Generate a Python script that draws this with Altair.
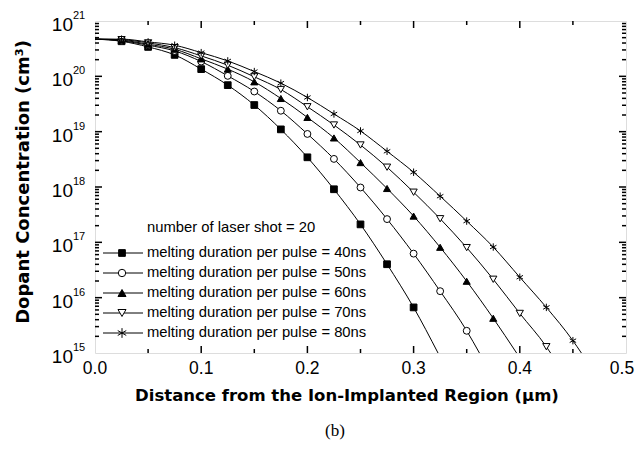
import altair as alt
import pandas as pd

# ---------------- data ----------------
series_names = [
    "melting duration per pulse = 40ns",
    "melting duration per pulse = 50ns",
    "melting duration per pulse = 60ns",
    "melting duration per pulse = 70ns",
    "melting duration per pulse = 80ns",
]
legend_header = "number of laser shot = 20"

x_40 = [0.0, 0.025, 0.05, 0.075, 0.1, 0.125, 0.15, 0.175, 0.2, 0.225, 0.25, 0.275, 0.3, 0.323]
c_40 = [4.7e20, 4.3e20, 3.40e20, 2.44e20, 1.35e20, 6.93e19, 3.03e19, 1.10e19, 3.44e18, 9.1e17,
        2.11e17, 4.02e16, 6.67e15, 1.0e15]

x_50 = [0.0, 0.025, 0.05, 0.075, 0.1, 0.125, 0.15, 0.175, 0.2, 0.225, 0.25, 0.275, 0.3, 0.325,
        0.35, 0.362]
c_50 = [4.7e20, 4.4e20, 3.65e20, 2.88e20, 1.85e20, 1.02e20, 5.32e19, 2.39e19, 9.1e18, 3.22e18,
        9.8e17, 2.63e17, 6.25e16, 1.31e16, 2.52e15, 1.0e15]

x_60 = [0.0, 0.025, 0.05, 0.075, 0.1, 0.125, 0.15, 0.175, 0.2, 0.225, 0.25, 0.275, 0.3, 0.325,
        0.35, 0.375, 0.397]
c_60 = [4.7e20, 4.5e20, 3.80e20, 3.09e20, 2.07e20, 1.35e20, 7.96e19, 3.98e19, 1.81e19, 7.7e18,
        2.76e18, 9.4e17, 2.98e17, 8.13e16, 1.98e16, 4.24e15, 1.0e15]

x_70 = [0.0, 0.025, 0.05, 0.075, 0.1, 0.125, 0.15, 0.175, 0.2, 0.225, 0.25, 0.275, 0.3, 0.325,
        0.35, 0.375, 0.4, 0.425, 0.429]
c_70 = [4.7e20, 4.6e20, 4.02e20, 3.30e20, 2.34e20, 1.59e20, 9.8e19, 5.78e19, 2.82e19, 1.32e19,
        5.75e18, 2.28e18, 8.05e17, 2.67e17, 8.03e16, 2.15e16, 5.19e15, 1.30e15, 1.0e15]

x_80 = [0.0, 0.025, 0.05, 0.075, 0.1, 0.125, 0.15, 0.175, 0.2, 0.225, 0.25, 0.275, 0.3, 0.325,
        0.35, 0.375, 0.4, 0.425, 0.45, 0.458]
c_80 = [4.7e20, 4.7e20, 4.19e20, 3.65e20, 2.68e20, 1.90e20, 1.22e20, 7.54e19, 4.15e19, 2.09e19,
        1.03e19, 4.42e18, 1.85e18, 6.82e17, 2.42e17, 8.22e16, 2.34e16, 6.67e15, 1.67e15, 1.0e15]

x_tick_labels = [0.0, 0.1, 0.2, 0.3, 0.4, 0.5]
x_major_ticks = [0.1, 0.2, 0.3, 0.4]
x_minor_ticks = [0.05, 0.15, 0.25, 0.35, 0.45]
y_decades = [1e15, 1e16, 1e17, 1e18, 1e19, 1e20, 1e21]
y_exponents = ["15", "16", "17", "18", "19", "20", "21"]
y_major_ticks = [1e16, 1e17, 1e18, 1e19, 1e20]
y_minor_ticks = [m * d for d in [1e15, 1e16, 1e17, 1e18, 1e19, 1e20] for m in range(2, 10)]

x_title = "Distance from the Ion-Implanted Region (\u03bcm)"
y_title = "Dopant Concentration (cm\u00b3)"
caption = "(b)"

# ---------------- styling ----------------
ASTER = "M0,-1L0,1M-0.87,-0.5L0.87,0.5M-0.87,0.5L0.87,-0.5"
shapes = ["square", "circle", "triangle-up", "triangle-down", ASTER]
fills = ["black", "white", "black", "white", "black"]
sizes = [45, 55, 65, 65, 95]
FONT = "Liberation Sans"
TFONT = "DejaVu Sans"

W, H = 531, 332

rows = []
for name, xs, cs in zip(series_names, [x_40, x_50, x_60, x_70, x_80], [c_40, c_50, c_60, c_70, c_80]):
    for i, (xv, cv) in enumerate(zip(xs, cs)):
        rows.append({"series": name, "x": xv, "y": cv, "marker": 0 < i < len(xs) - 1})
df = pd.DataFrame(rows)

xscale = alt.Scale(domain=[0, 0.5], nice=False, zero=False)
yscale = alt.Scale(type="log", domain=[1e15, 1e21], nice=False)
X = alt.X("x:Q", scale=xscale, axis=None)
Y = alt.Y("y:Q", scale=yscale, axis=None)

lines = alt.Chart(df).mark_line(color="black", strokeWidth=1, interpolate="monotone").encode(
    x=X, y=Y, detail="series:N"
)

points = alt.Chart(df).transform_filter("datum.marker").mark_point(
    filled=True, stroke="black", strokeWidth=1, opacity=1
).encode(
    x=X, y=Y,
    shape=alt.Shape("series:N", scale=alt.Scale(domain=series_names, range=shapes), legend=None),
    fill=alt.Fill("series:N", scale=alt.Scale(domain=series_names, range=fills), legend=None),
    size=alt.Size("series:N", scale=alt.Scale(domain=series_names, range=sizes), legend=None),
)

dfx_maj = pd.DataFrame({"x": x_major_ticks})
dfx_min = pd.DataFrame({"x": x_minor_ticks})
dfy_maj = pd.DataFrame({"y": y_major_ticks})
dfy_min = pd.DataFrame({"y": y_minor_ticks})

tick_layers = []
for d, L in [(dfx_maj, 7), (dfx_min, 4)]:
    tick_layers.append(alt.Chart(d).mark_rule(color="black", strokeWidth=1.5).encode(
        x=X, y=alt.value(H), y2=alt.value(H - L)))
    tick_layers.append(alt.Chart(d).mark_rule(color="black", strokeWidth=1.5).encode(
        x=X, y=alt.value(0), y2=alt.value(L)))
for d, L in [(dfy_maj, 7), (dfy_min, 4)]:
    tick_layers.append(alt.Chart(d).mark_rule(color="black", strokeWidth=1.5).encode(
        y=Y, x=alt.value(0), x2=alt.value(L)))
    tick_layers.append(alt.Chart(d).mark_rule(color="black", strokeWidth=1.5).encode(
        y=Y, x=alt.value(W), x2=alt.value(W - L)))

# x tick labels (the last one nudged left so it stays inside the page)
dfxl = pd.DataFrame({"x": x_tick_labels[:-1]})
dfxl_last = pd.DataFrame({"x": x_tick_labels[-1:]})
xlabels = alt.Chart(dfxl).mark_text(font=FONT, fontSize=17.5, baseline="middle", color="black").encode(
    x=X, y=alt.value(H + 16), text=alt.Text("x:Q", format=".1f"))
xlabel_last = alt.Chart(dfxl_last).mark_text(font=FONT, fontSize=17.5, baseline="middle", dx=-4,
                                              color="black").encode(
    x=X, y=alt.value(H + 16), text=alt.Text("x:Q", format=".1f"))

# y tick labels (10 with superscript exponent)
dfyl = pd.DataFrame({"y": y_decades, "exp": y_exponents})
ybase = alt.Chart(dfyl).mark_text(font=FONT, fontSize=19, align="right", baseline="middle", dy=4,
                                   color="black").encode(
    y=Y, x=alt.value(-22), text=alt.value("10"))
yexp = alt.Chart(dfyl).mark_text(font=FONT, fontSize=11, align="left", baseline="middle", dy=-5,
                                  color="black").encode(
    y=Y, x=alt.value(-22), text="exp:N")

# titles
xt = alt.Chart(pd.DataFrame({"t": [x_title]})).mark_text(
    font=TFONT, fontSize=16.5, fontWeight="bold", baseline="middle", align="center", color="black"
).encode(x=alt.value(252), y=alt.value(375), text="t:N")
yt = alt.Chart(pd.DataFrame({"t": [y_title]})).mark_text(
    font=TFONT, fontSize=18, fontWeight="bold", baseline="middle", align="center", angle=270, color="black"
).encode(x=alt.value(-71), y=alt.value(161), text="t:N")
cap = alt.Chart(pd.DataFrame({"t": [caption]})).mark_text(
    font="Liberation Serif", fontSize=17, baseline="middle", align="center", color="black"
).encode(x=alt.value(240), y=alt.value(410), text="t:N")

# legend (drawn by hand: line + marker + label)
legend_layers = [alt.Chart(pd.DataFrame({"t": [legend_header]})).mark_text(
    font=FONT, fontSize=14.8, align="left", baseline="middle", color="black"
).encode(x=alt.value(52), y=alt.value(207), text="t:N")]
row_y = [232, 252, 272, 292, 312]
for i, name in enumerate(series_names):
    ld = pd.DataFrame({"t": [name]})
    legend_layers.append(alt.Chart(ld).mark_rule(color="black", strokeWidth=1).encode(
        x=alt.value(8), x2=alt.value(48), y=alt.value(row_y[i])))
    legend_layers.append(alt.Chart(ld).mark_point(
        filled=True, stroke="black", strokeWidth=1, opacity=1).encode(
        x=alt.value(27), y=alt.value(row_y[i]), shape=alt.value(shapes[i]),
        fill=alt.value(fills[i]), size=alt.value(sizes[i])))
    legend_layers.append(alt.Chart(ld).mark_text(
        font=FONT, fontSize=14.8, align="left", baseline="middle", color="black").encode(
        x=alt.value(52), y=alt.value(row_y[i]), text="t:N"))

chart = alt.layer(
    lines, points, *tick_layers, xlabels, xlabel_last, ybase, yexp, xt, yt, cap, *legend_layers
).properties(
    width=W, height=H,
    autosize=alt.AutoSizeParams(type="none"),
    padding={"left": 87, "top": 13, "right": 9, "bottom": 89},
).configure_view(stroke="black", strokeWidth=2).configure(background="white")

chart.save("out.html", embed_options={"renderer": "svg", "actions": False})
